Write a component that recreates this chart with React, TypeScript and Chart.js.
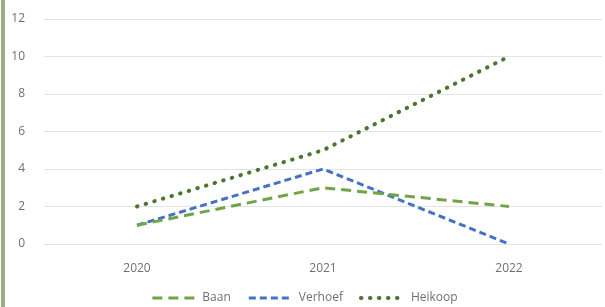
import React, { useEffect, useRef } from "react";
import { Chart, registerables } from "chart.js";

Chart.register(...registerables);

const categories = ["2020", "2021", "2022"];
const baan = [1, 3, 2];
const verhoef = [1, 4, 0];
const heikoop = [2, 5, 10];
const yTicks = [0, 2, 4, 6, 8, 10, 12];

const TEXT = "#707070";
const FONT = { family: "'Open Sans'", size: 12 };

export default function App() {
  const ref = useRef<HTMLCanvasElement | null>(null);
  useEffect(() => {
    document.body.style.margin = "0";
    const chart = new Chart(ref.current!, {
      type: "line",
      data: {
        labels: categories,
        datasets: [
          {
            label: "Baan",
            data: baan,
            borderColor: "#6FA645",
            borderWidth: 3,
            borderDash: [10, 6],
            pointRadius: 0,
            fill: false,
          },
          {
            label: "Verhoef",
            data: verhoef,
            borderColor: "#4472C4",
            borderWidth: 3,
            borderDash: [7, 4],
            pointRadius: 0,
            fill: false,
          },
          {
            label: "Heikoop",
            data: heikoop,
            borderColor: "#4B7530",
            borderWidth: 4,
            borderDash: [0.5, 8.5],
            borderCapStyle: "round",
            pointRadius: 0,
            fill: false,
          },
        ],
      },
      options: {
        animation: false,
        responsive: false,
        layout: { padding: { left: 8, right: 3, top: 19, bottom: -7 } },
        plugins: {
          legend: {
            position: "bottom",
            labels: {
              usePointStyle: true,
              boxWidth: 44,
              pointStyleWidth: 44,
              padding: 18,
              color: TEXT,
              font: FONT,
              generateLabels: (c: any) =>
                c.data.datasets.map((ds: any, i: number) => ({
                  text: ds.label,
                  strokeStyle: ds.borderColor,
                  fillStyle: ds.borderColor,
                  lineWidth: ds.borderWidth,
                  lineDash: ds.borderDash,
                  lineCap: ds.borderCapStyle || "butt",
                  pointStyle: "line",
                  fontColor: TEXT,
                  hidden: false,
                  datasetIndex: i,
                })),
            },
          },
          tooltip: { enabled: false },
        },
        scales: {
          x: {
            offset: true,
            grid: { display: false, drawTicks: false },
            border: { display: false },
            afterFit: (s: any) => {
              s.height = 30;
            },
            ticks: {
              color: TEXT,
              font: FONT,
              padding: 17,
            },
          },
          y: {
            min: 0,
            max: 12,
            afterFit: (s: any) => {
              s.width = 36;
            },
            afterBuildTicks: (s: any) => {
              s.ticks = yTicks.map((v) => ({ value: v }));
            },
            grid: {
              color: "#e3e3e3",
              drawTicks: true,
              tickLength: 19,
              tickColor: "rgba(0,0,0,0)",
              lineWidth: 1,
            },
            border: { display: false },
            ticks: {
              color: TEXT,
              font: FONT,
              padding: 0,
            },
          },
        },
      },
    });
    return () => chart.destroy();
  }, []);
  return (
    <div style={{ position: "relative", width: 605, height: 307 }}>
      <div
        style={{
          position: "absolute",
          left: 1,
          top: 0,
          width: 4,
          height: 307,
          background: "#9aac84",
        }}
      />
      <canvas ref={ref} width={605} height={307} style={{ display: "block" }} />
    </div>
  );
}
